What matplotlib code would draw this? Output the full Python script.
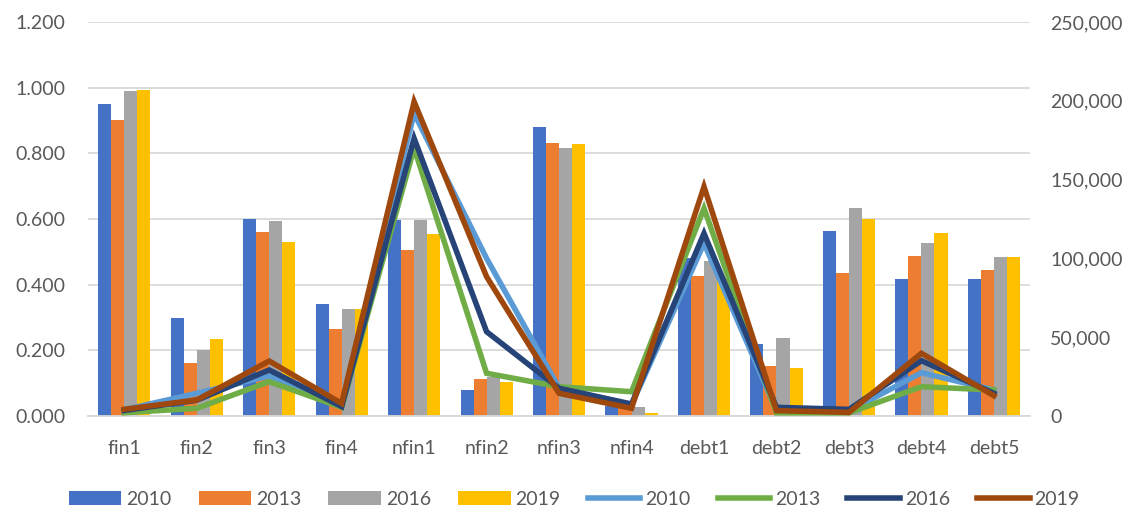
import matplotlib
matplotlib.use("Agg")
import matplotlib.pyplot as plt
import numpy as np
from matplotlib.patches import Patch
from matplotlib.lines import Line2D
from matplotlib.ticker import FuncFormatter

categories = ["fin1", "fin2", "fin3", "fin4", "nfin1", "nfin2", "nfin3", "nfin4",
              "debt1", "debt2", "debt3", "debt4", "debt5"]

bar_2010 = [0.950, 0.300, 0.600, 0.342, 0.597, 0.079, 0.881, 0.030, 0.482, 0.218, 0.564, 0.416, 0.416]
bar_2013 = [0.902, 0.162, 0.560, 0.265, 0.506, 0.113, 0.830, 0.025, 0.426, 0.153, 0.437, 0.487, 0.445]
bar_2016 = [0.990, 0.201, 0.595, 0.325, 0.597, 0.120, 0.815, 0.026, 0.472, 0.239, 0.635, 0.526, 0.485]
bar_2019 = [0.994, 0.235, 0.529, 0.325, 0.553, 0.105, 0.827, 0.010, 0.420, 0.146, 0.600, 0.557, 0.483]

line_2010 = [4000, 14400, 25400, 7000, 192000, 100000, 17800, 7000, 109600, 3500, 3000, 27500, 16500]
line_2013 = [2100, 4900, 21800, 5500, 170000, 27100, 18600, 15400, 131800, 2000, 2000, 18600, 16500]
line_2016 = [3500, 10000, 29200, 6000, 176200, 53500, 17600, 7600, 115900, 5500, 4200, 35100, 14400]
line_2019 = [4250, 10150, 34900, 8000, 199400, 88400, 14400, 4900, 145500, 3400, 2300, 39800, 12900]

years = ["2010", "2013", "2016", "2019"]
bar_colors = ["#4472C4", "#ED7D31", "#A5A5A5", "#FFC000"]
line_colors = ["#5B9BD5", "#70AD47", "#264478", "#9E480E"]

plt.rcParams['font.family'] = ['Lato', 'DejaVu Sans']
txt = "#595959"
fs = 14

fig = plt.figure(figsize=(11.37, 5.12), dpi=100)
ax = fig.add_axes([0.0774, 0.1875, 0.8286, 0.7695])
ax2 = ax.twinx()

x = np.arange(len(categories))
bw = 0.18
bars = [bar_2010, bar_2013, bar_2016, bar_2019]
for i, (vals, c) in enumerate(zip(bars, bar_colors)):
    ax.bar(x + (i - 1.5) * bw, vals, width=bw, color=c, zorder=2)

lines = [line_2010, line_2013, line_2016, line_2019]
for vals, c in zip(lines, line_colors):
    ax2.plot(x, vals, color=c, lw=4.0, solid_joinstyle='miter', zorder=3)

ax.set_xlim(-0.5, len(categories) - 0.5)
ax.set_ylim(0, 1.2)
ax.set_yticks(np.arange(0, 1.21, 0.2))
ax.yaxis.set_major_formatter(FuncFormatter(lambda v, p: f"{v:.3f}"))
ax2.set_ylim(0, 250000)
ax2.set_yticks(np.arange(0, 250001, 50000))
ax2.yaxis.set_major_formatter(FuncFormatter(lambda v, p: f"{int(round(v)):,}"))

ax.grid(axis='y', color='#D9D9D9', lw=1.3, zorder=0)
ax.set_axisbelow(True)
for a in (ax, ax2):
    for s in a.spines.values():
        s.set_visible(False)
    a.tick_params(length=0, labelsize=fs, colors=txt)
ax.spines['bottom'].set_visible(True)
ax.spines['bottom'].set_color('#D9D9D9')
ax.spines['bottom'].set_linewidth(1.3)
ax.set_xticks(x)
ax.set_xticklabels(categories)
ax.tick_params(axis='x', pad=17)
ax.tick_params(axis='y', pad=16)
ax2.tick_params(axis='y', pad=14.5)

handles = [Patch(facecolor=c, label=y) for c, y in zip(bar_colors, years)]
handles += [Line2D([0], [0], color=c, lw=4.0, label=y) for c, y in zip(line_colors, years)]
fig.legend(handles=handles, loc='center', bbox_to_anchor=(0.505, 0.025), ncol=8,
           frameon=False, fontsize=fs, handlelength=2.7, handleheight=0.7,
           columnspacing=1.4, handletextpad=0.25, labelcolor=txt)

fig.savefig("out.png", dpi=100)
